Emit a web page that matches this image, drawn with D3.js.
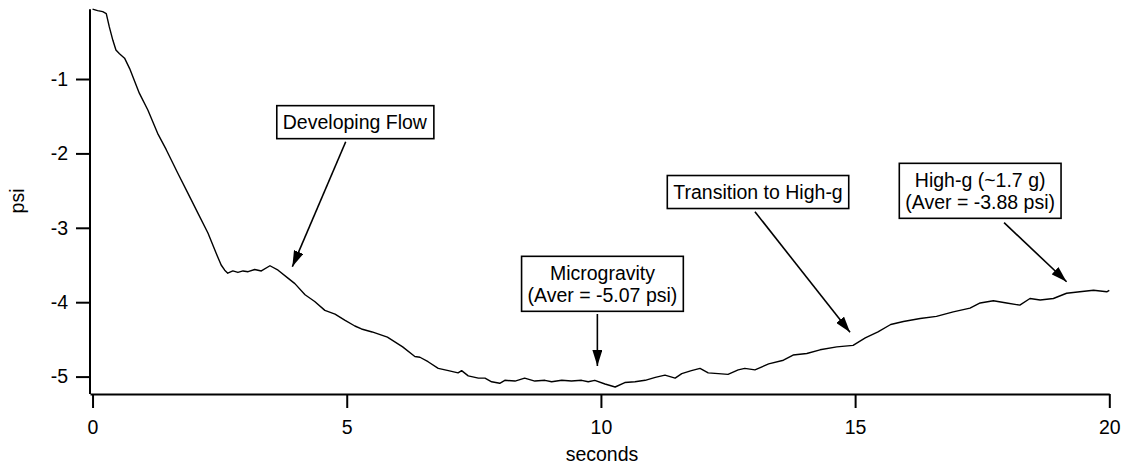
<!DOCTYPE html>
<html>
<head>
<meta charset="utf-8">
<script src="https://cdn.jsdelivr.net/npm/d3@7"></script>
<style>
  body { margin: 0; background: #fff; }
  svg text { font-family: "Liberation Sans", Arial, sans-serif; fill: #000; }
</style>
</head>
<body>
<div class="chart"></div>
<script>
// pressure trace
var seconds = [0.00, 0.10, 0.20, 0.27, 0.33, 0.40, 0.46, 0.53, 0.63, 0.73, 0.92, 1.09, 1.28, 1.45, 1.68, 1.88,
  2.07, 2.27, 2.43, 2.53, 2.60, 2.66, 2.76, 2.86, 2.96, 3.06, 3.19, 3.32, 3.49, 3.65, 3.85, 3.98,
  4.18, 4.37, 4.57, 4.77, 4.96, 5.16, 5.29, 5.50, 5.80, 6.10, 6.34, 6.44, 6.60, 6.80, 7.00, 7.19,
  7.26, 7.39, 7.59, 7.72, 7.85, 8.01, 8.11, 8.31, 8.50, 8.70, 8.90, 9.03, 9.23, 9.42, 9.62, 9.75,
  9.88, 10.08, 10.28, 10.47, 10.67, 10.87, 11.07, 11.26, 11.46, 11.59, 11.78, 11.95, 12.11, 12.31, 12.50, 12.70,
  12.83, 13.03, 13.30, 13.59, 13.78, 14.05, 14.31, 14.64, 14.96, 15.20, 15.45, 15.70, 15.95, 16.28, 16.60, 16.93,
  17.26, 17.46, 17.72, 17.98, 18.24, 18.44, 18.64, 18.90, 19.16, 19.42, 19.69, 19.95, 20.00];
var psi = [-0.06, -0.08, -0.095, -0.12, -0.30, -0.48, -0.61, -0.66, -0.72, -0.86, -1.19, -1.42, -1.73, -1.95, -2.27, -2.54,
  -2.80, -3.07, -3.34, -3.50, -3.57, -3.61, -3.58, -3.60, -3.58, -3.59, -3.56, -3.58, -3.51, -3.57, -3.68, -3.75,
  -3.90, -3.99, -4.11, -4.16, -4.24, -4.32, -4.36, -4.40, -4.47, -4.60, -4.73, -4.74, -4.80, -4.89, -4.92, -4.95,
  -4.92, -4.99, -5.02, -5.02, -5.07, -5.09, -5.05, -5.06, -5.02, -5.06, -5.05, -5.07, -5.05, -5.06, -5.05, -5.07,
  -5.05, -5.10, -5.14, -5.08, -5.07, -5.05, -5.01, -4.98, -5.02, -4.96, -4.92, -4.89, -4.95, -4.96, -4.97, -4.91,
  -4.89, -4.91, -4.83, -4.78, -4.71, -4.69, -4.64, -4.60, -4.58, -4.48, -4.40, -4.30, -4.26, -4.22, -4.19, -4.13,
  -4.08, -4.01, -3.98, -4.01, -4.04, -3.95, -3.97, -3.95, -3.88, -3.86, -3.84, -3.86, -3.84];

var xTicks = [0, 5, 10, 15, 20];
var yTicks = [-1, -2, -3, -4, -5];

// annotations: box centre and arrow, in data units
var noteText = [["Developing Flow"], ["Microgravity", "(Aver = -5.07 psi)"], ["Transition to High-g"], ["High-g (~1.7 g)", "(Aver = -3.88 psi)"]];
var noteBox = [[5.16, -1.58], [10.03, -3.753], [13.09, -2.519], [17.46, -2.503]];
var arrowFrom = [[4.98, -1.843], [9.93, -4.159], [13.03, -2.784], [17.93, -2.931]];
var arrowTo = [[3.93, -3.523], [9.93, -4.858], [14.90, -4.405], [19.16, -3.725]];

var outerWidth = 1123;
var outerHeight = 466;
var fontSize = 19.5;

var svg = d3.select(".chart").append("svg")
  .attr("width", outerWidth)
  .attr("height", outerHeight);

var xScale = d3.scaleLinear().domain([-0.05, 20]).range([90, 1109.3]);
var yScale = d3.scaleLinear().domain([-5.234, -0.063]).range([394, 9.3]);

// axes (plain hyphen for the minus, as in the original)
var fmt = function(d) { return String(d); };
var yAxis = svg.append("g")
  .attr("transform", "translate(90,0)")
  .call(d3.axisLeft(yScale).tickValues(yTicks).tickFormat(fmt).tickSize(14).tickSizeOuter(0).tickPadding(8));
var xAxis = svg.append("g")
  .attr("transform", "translate(0,394)")
  .call(d3.axisBottom(xScale).tickValues(xTicks).tickFormat(fmt).tickSize(14).tickSizeOuter(0).tickPadding(12));

svg.selectAll(".domain, .tick line").attr("stroke", "#000").attr("stroke-width", 2);
svg.selectAll(".tick text").attr("font-size", fontSize).attr("font-family", "Liberation Sans, Arial, sans-serif");
yAxis.select(".domain").attr("d", "M0," + yScale.range()[0] + "V" + yScale.range()[1]);

svg.append("text")
  .attr("x", 602)
  .attr("y", 461)
  .attr("text-anchor", "middle")
  .attr("font-size", fontSize)
  .text("seconds");

svg.append("text")
  .attr("transform", "translate(24,201) rotate(-90)")
  .attr("text-anchor", "middle")
  .attr("font-size", fontSize)
  .text("psi");

// trace
var line = d3.line()
  .x(function(d, i) { return xScale(seconds[i]); })
  .y(function(d) { return yScale(d); });

svg.append("path")
  .datum(psi)
  .attr("fill", "none")
  .attr("stroke", "#000")
  .attr("stroke-width", 1.4)
  .attr("stroke-linejoin", "round")
  .attr("d", line);

// arrows
var defs = svg.append("defs");
defs.append("marker")
  .attr("id", "head")
  .attr("viewBox", "0 0 16 10")
  .attr("refX", 16)
  .attr("refY", 5)
  .attr("markerWidth", 16)
  .attr("markerHeight", 10)
  .attr("markerUnits", "userSpaceOnUse")
  .attr("orient", "auto")
  .append("path")
    .attr("d", "M0,0L16,5L0,10Z")
    .attr("fill", "#000");

noteText.forEach(function(lines, i) {
  svg.append("line")
    .attr("x1", xScale(arrowFrom[i][0]))
    .attr("y1", yScale(arrowFrom[i][1]))
    .attr("x2", xScale(arrowTo[i][0]))
    .attr("y2", yScale(arrowTo[i][1]))
    .attr("stroke", "#000")
    .attr("stroke-width", 1.6)
    .attr("marker-end", "url(#head)");

  var cx = xScale(noteBox[i][0]);
  var cy = yScale(noteBox[i][1]);
  var g = svg.append("g");
  var rect = g.append("rect");
  var text = g.append("text")
    .attr("text-anchor", "middle")
    .attr("font-size", fontSize);

  var lh = 22;
  text.selectAll("tspan").data(lines).enter().append("tspan")
    .attr("x", cx)
    .attr("y", function(d, j) { return cy + (j - (lines.length - 1) / 2) * lh + 7; })
    .text(function(d) { return d; });

  var bb = text.node().getBBox();
  var h = lines.length * lh + 11;
  rect.attr("x", bb.x - 6)
    .attr("y", cy - h / 2)
    .attr("width", bb.width + 12)
    .attr("height", h)
    .attr("fill", "#fff")
    .attr("stroke", "#000")
    .attr("stroke-width", 1.6);
});
</script>
</body>
</html>
